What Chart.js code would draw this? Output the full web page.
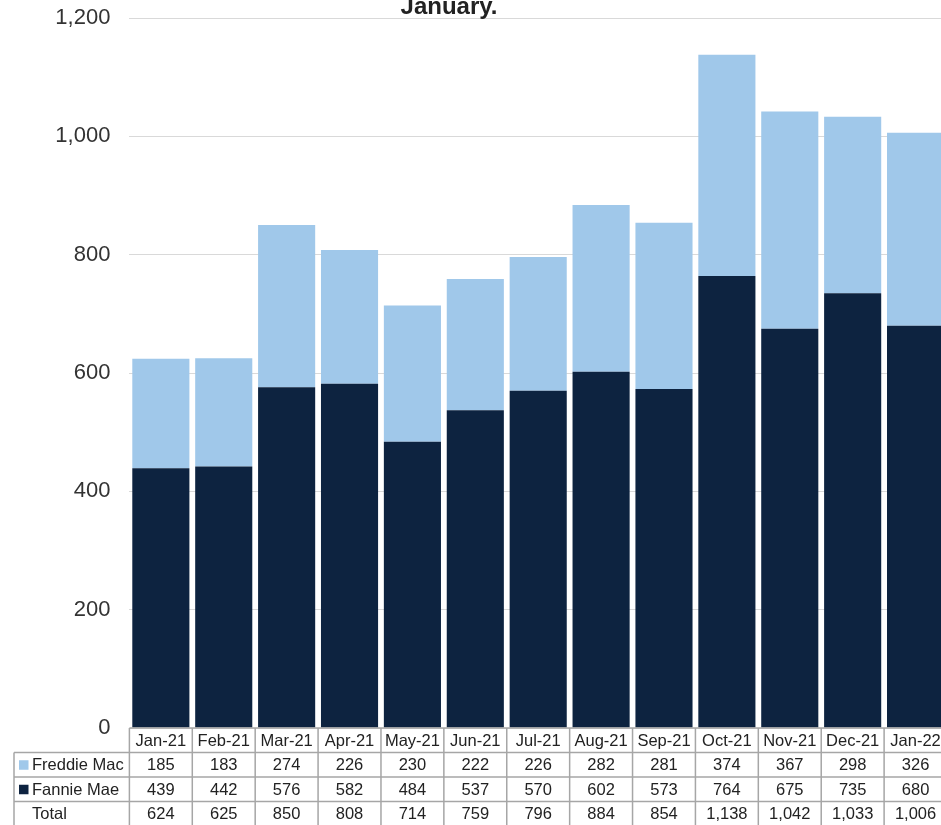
<!DOCTYPE html>
<html>
<head>
<meta charset="utf-8">
<script src="https://cdn.jsdelivr.net/npm/chart.js@4.4.1/dist/chart.umd.min.js"></script>
<style>
  html, body { margin: 0; padding: 0; overflow: hidden; background: #fff; }
  #wrap { width: 941px; height: 825px; overflow: hidden; position: relative; }
  #box { width: 947px; height: 825px; position: absolute; left: 0; top: 0; }
</style>
</head>
<body>
<div id="wrap"><div id="box"><canvas id="c"></canvas></div></div>
<script>
const categories = ['Jan-21','Feb-21','Mar-21','Apr-21','May-21','Jun-21','Jul-21','Aug-21','Sep-21','Oct-21','Nov-21','Dec-21','Jan-22'];
const freddieMac = [185,183,274,226,230,222,226,282,281,374,367,298,326];
const fannieMae  = [439,442,576,582,484,537,570,602,573,764,675,735,680];
const totals     = [624,625,850,808,714,759,796,884,854,1138,1042,1033,1006];
const yTicks = [0,200,400,600,800,1000,1200];
const titleText = 'January.';

const FREDDIE_COLOR = '#A0C8EA';
const FANNIE_COLOR = '#0D2340';
const fmt = v => Number(v).toLocaleString('en-US');

const tablePlugin = {
  id: 'dataTable',
  afterDraw(chart) {
    const ctx = chart.ctx;
    const x = chart.scales.x;
    const area = chart.chartArea;
    const n = categories.length;
    const colW = x.getPixelForValue(1) - x.getPixelForValue(0);
    const leftCol = 14;
    const rowH = 24.5;
    const top = area.bottom;
    const rows = [top, top + rowH, top + 2*rowH, top + 3*rowH, top + 4*rowH];
    const right = area.right;

    ctx.save();
    // title
    ctx.fillStyle = '#222';
    ctx.font = 'bold 24px "Liberation Sans", Arial, sans-serif';
    ctx.textAlign = 'center';
    ctx.textBaseline = 'alphabetic';
    ctx.fillText(titleText, 449, 13.5);

    // grid lines of table
    ctx.strokeStyle = '#a6a6a6';
    ctx.lineWidth = 1.5;
    ctx.beginPath();
    ctx.moveTo(area.left, rows[0]); ctx.lineTo(right, rows[0]);
    for (let r = 1; r < rows.length; r++) {
      ctx.moveTo(leftCol, rows[r]); ctx.lineTo(right, rows[r]);
    }
    for (let i = 0; i <= n; i++) {
      const px = x.getPixelForValue(0) - colW/2 + i*colW;
      ctx.moveTo(px, rows[0]); ctx.lineTo(px, rows[4]);
    }
    ctx.moveTo(leftCol, rows[1]); ctx.lineTo(leftCol, rows[4]);
    ctx.stroke();

    // text
    ctx.font = '16.5px "Liberation Sans", Arial, sans-serif';
    ctx.fillStyle = '#222';
    ctx.textBaseline = 'middle';
    ctx.textAlign = 'center';
    const series = [freddieMac, fannieMae, totals];
    for (let i = 0; i < n; i++) {
      const cx = x.getPixelForValue(i);
      ctx.fillText(categories[i], cx, (rows[0]+rows[1])/2 + 1);
      for (let s = 0; s < 3; s++) {
        ctx.fillText(fmt(series[s][i]), cx, (rows[s+1]+rows[s+2])/2 + 1);
      }
    }
    ctx.textAlign = 'left';
    const labels = ['Freddie Mac','Fannie Mae','Total'];
    const keyColors = [FREDDIE_COLOR, FANNIE_COLOR, null];
    for (let s = 0; s < 3; s++) {
      const cy = (rows[s+1]+rows[s+2])/2;
      if (keyColors[s]) {
        ctx.fillStyle = keyColors[s];
        ctx.fillRect(19, cy - 4.5, 9.5, 9.5);
      }
      ctx.fillStyle = '#222';
      ctx.fillText(labels[s], 32, cy + 1);
    }
    ctx.restore();
  }
};

new Chart(document.getElementById('c'), {
  type: 'bar',
  data: {
    labels: categories,
    datasets: [
      { label: 'Fannie Mae', data: fannieMae, backgroundColor: FANNIE_COLOR, borderWidth: 0,
        categoryPercentage: 1, barPercentage: 0.908 },
      { label: 'Freddie Mac', data: freddieMac, backgroundColor: FREDDIE_COLOR, borderWidth: 0,
        categoryPercentage: 1, barPercentage: 0.908 }
    ]
  },
  options: {
    responsive: true,
    maintainAspectRatio: false,
    animation: false,
    layout: { padding: { top: 18, bottom: 97, left: 0, right: 0 } },
    plugins: { legend: { display: false }, title: { display: false }, tooltip: { enabled: false } },
    scales: {
      x: { stacked: true, display: false },
      y: {
        stacked: true, min: 0, max: 1200,
        afterFit(scale) {
          scale.width = 129.4;
          scale.paddingTop = 0;
          scale.paddingBottom = 0;
        },
        afterBuildTicks(scale) { scale.ticks = yTicks.map(v => ({ value: v })); },
        ticks: {
          padding: 19,
          color: '#333',
          font: { family: '"Liberation Sans", Arial, sans-serif', size: 22 },
          callback: v => fmt(v)
        },
        grid: { color: '#d9d9d9', lineWidth: 1, drawTicks: false },
        border: { display: false }
      }
    }
  },
  plugins: [tablePlugin]
});
</script>
</body>
</html>
